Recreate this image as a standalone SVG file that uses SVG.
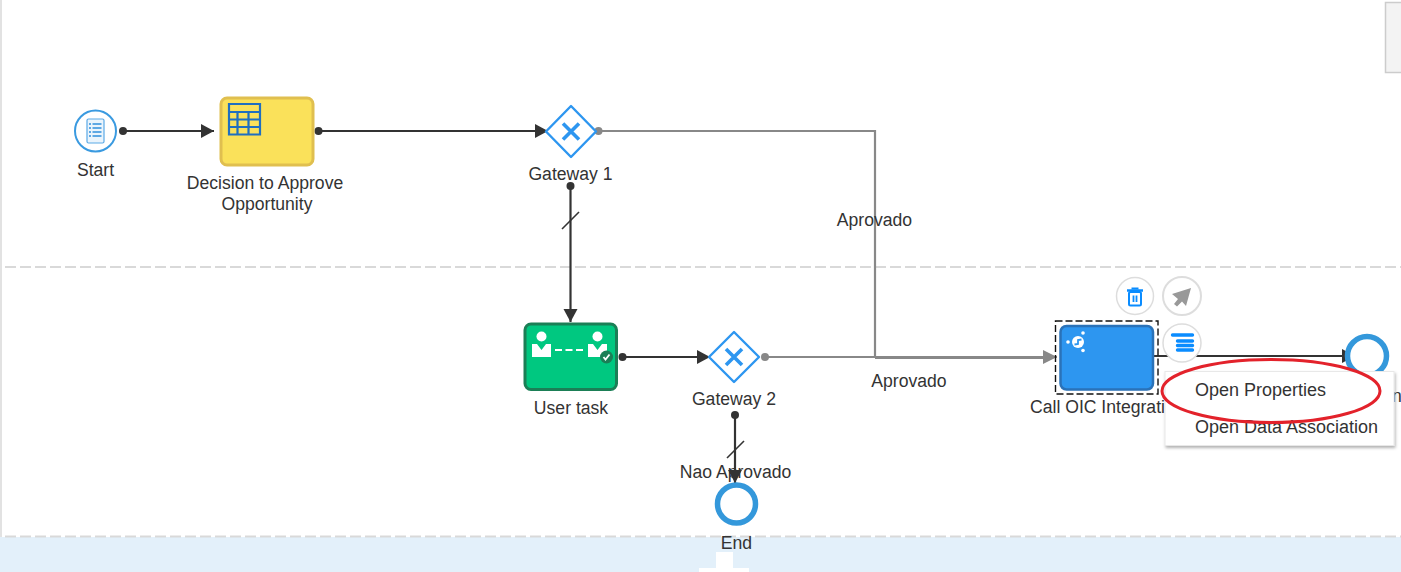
<svg xmlns="http://www.w3.org/2000/svg" width="1401" height="572" viewBox="0 0 1401 572">
<style>
text{font-family:"Liberation Sans",Arial,sans-serif;font-size:17.6px;fill:#333;text-anchor:middle}
.d{stroke:#333;stroke-width:2.2;fill:none}
.g{stroke:#888;stroke-width:2.2;fill:none}
.dot{fill:#333}.gdot{fill:#888}
.lane{stroke:#d9d9d9;stroke-width:2;stroke-dasharray:11 4;fill:none}
.gw{fill:#fff;stroke:#2d96f0;stroke-width:2.4;stroke-linejoin:round}
.x{stroke:#2d96f0;stroke-width:3.6;fill:none}
.end{fill:#fff;stroke:#3498db;stroke-width:5.5}
.act{fill:#fff;stroke:#ddd;stroke-width:1.5}
.m{text-anchor:start;font-size:18px}
.ic{stroke:#0a8cff;fill:none}
</style>
<defs>
<marker id="ad" markerUnits="userSpaceOnUse" markerWidth="14" markerHeight="16" refX="13" refY="8" orient="auto"><path d="M0 1L13 8L0 15Z" fill="#333"/></marker>
<marker id="ag" markerUnits="userSpaceOnUse" markerWidth="15" markerHeight="16" refX="14" refY="8" orient="auto"><path d="M0 1L14 8L0 15Z" fill="#888"/></marker>
<filter id="sh" x="-5%" y="-10%" width="110%" height="125%"><feDropShadow dx="1" dy="2" stdDeviation="1.5" flood-color="#000" flood-opacity=".3"/></filter>
</defs>
<rect width="1401" height="572" fill="#fff"/>
<g id="canvas">
<rect x="0" y="0" width="2" height="537" fill="#e2e2e2"/>
<path class="lane" d="M5 267H1401"/>
<rect x="0" y="537" width="1401" height="35" fill="#e3f0fa"/>
<path class="lane" d="M5 536.500H1401"/>
<path d="M716 572V552H733V568H749V572Z M699 572V568H716V572Z" fill="#fff"/>
<rect x="1385.500" y="2.500" width="20" height="70" fill="#f3f3f3" stroke="#ccc" stroke-width="1.500"/>
</g>
<g id="connectors">
<path class="d" d="M123 131H214" marker-end="url(#ad)"/><circle class="dot" cx="123" cy="131" r="4"/>
<path class="d" d="M318.500 131H548" marker-end="url(#ad)"/><circle class="dot" cx="318.500" cy="131" r="4"/>
<path class="g" d="M598.500 131H875V357"/><circle class="gdot" cx="598.500" cy="131" r="4"/>
<path class="d" d="M570.500 186V322" marker-end="url(#ad)"/><circle class="dot" cx="570.500" cy="186" r="4"/>
<path d="M562 229L579 212" stroke="#333" stroke-width="1.600" fill="none"/>
<path class="d" d="M622.500 357H710" marker-end="url(#ad)"/><circle class="dot" cx="622.500" cy="357" r="4"/>
<path class="g" d="M765 357H1057" marker-end="url(#ag)"/><circle class="gdot" cx="765" cy="357" r="4"/>
<path class="g" d="M875 357.500H1045" style="stroke-width:3"/>
<path class="d" d="M735 415V483" marker-end="url(#ad)"/><circle class="dot" cx="735" cy="415" r="4"/>
<path d="M727 458L744 441" stroke="#333" stroke-width="1.600" fill="none"/>
<path class="d" d="M1154 356H1355" marker-end="url(#ad)"/>
</g>
<g id="start">
<circle cx="95.500" cy="131" r="20.500" fill="#fff" stroke="#3a9ae0" stroke-width="2"/>
<rect x="87" y="119" width="17" height="24" rx="1.500" fill="#eaf4fc" stroke="#5aa9e6" stroke-width="1.200"/>
<path d="M89 124h2M92.500 124h9M89 128h2M92.500 128h9M89 132h2M92.500 132h9M89 136h2M92.500 136h9" stroke="#2f8fdc" stroke-width="1.400"/>
<text x="95.500" y="176">Start</text>
</g>
<g id="decision">
<rect x="221" y="98" width="92" height="67" rx="6" fill="#fae15a" stroke="#e0bf4f" stroke-width="3"/>
<path d="M229 104H260V134.500H229ZM229 112H260M229 119.500H260M229 127H260M237.500 112V134.500M248.500 112V134.500" fill="none" stroke="#1f6fc0" stroke-width="2.200"/>
<text x="265" y="189">Decision to Approve</text>
<text x="267" y="210">Opportunity</text>
</g>
<g id="gateway1">
<path class="gw" d="M571 106L596 131.500L571 157L546 131.500Z"/>
<path class="x" d="M563 123.500L579 139.500M579 123.500L563 139.500"/>
<text x="570.500" y="180">Gateway 1</text>
</g>
<g id="user-task">
<rect x="525" y="324" width="91.500" height="65.500" rx="6" fill="#00c880" stroke="#1b7f56" stroke-width="3"/>
<circle cx="541.500" cy="336.500" r="5" fill="#fff"/>
<path d="M532 344H537L541.500 350L546 344H551V357H532Z" fill="#fff"/>
<circle cx="597.500" cy="336.500" r="5" fill="#fff"/>
<path d="M588 344H593L597.500 350L602 344H607V357H588Z" fill="#fff"/>
<path d="M555 350H584" stroke="#fff" stroke-width="2" stroke-dasharray="7 3.500"/>
<circle cx="606.500" cy="357" r="6.500" fill="#1b7f56"/>
<path d="M603.500 357L605.500 359.500L609.500 354.500" stroke="#fff" stroke-width="1.800" fill="none"/>
<text x="571" y="414">User task</text>
</g>
<g id="gateway2">
<path class="gw" d="M734 332L759 357L734 382L709 357Z"/>
<path class="x" d="M726 349L742 365M742 349L726 365"/>
<text x="734" y="405">Gateway 2</text>
</g>
<g id="call-oic">
<rect x="1060.500" y="326" width="92.500" height="63.500" rx="6" fill="#2d96f0" stroke="#2a72b8" stroke-width="2.500"/>
<rect x="1055.500" y="321" width="102.500" height="73" fill="none" stroke="#111" stroke-width="1.400" stroke-dasharray="7 3"/>
<circle cx="1078" cy="342" r="6" fill="#fff"/>
<path d="M1074.500 344.500L1078 344L1078 340L1081.500 339.500" stroke="#2d96f0" stroke-width="1.800" fill="none"/>
<circle cx="1068" cy="342" r="1.800" fill="#fff"/><circle cx="1083" cy="333" r="1.800" fill="#fff"/><circle cx="1083" cy="350.500" r="1.800" fill="#fff"/>
<text x="1030" y="413" style="text-anchor:start">Call OIC Integrati</text>
</g>
<g id="end-right">
<circle class="end" cx="1367" cy="356" r="19.500"/>
<text x="1392" y="402" style="text-anchor:start">n</text>
</g>
<g id="end">
<circle class="end" cx="736.500" cy="504" r="19"/>
<text x="736.500" y="549">End</text>
</g>
<g id="labels">
<text x="874.500" y="226">Aprovado</text>
<text x="909" y="387">Aprovado</text>
<text x="735.500" y="478">Nao Aprovado</text>
</g>
<g id="actions">
<circle class="act" cx="1135" cy="296" r="18.500"/>
<path class="ic" d="M1127 290.500H1143" stroke-width="2.500"/>
<path class="ic" d="M1131.500 288.500H1138.500" stroke-width="2"/>
<rect class="ic" x="1129" y="292" width="12" height="13.500" rx="1.500" stroke-width="2"/>
<path class="ic" d="M1133.500 295.500V302M1136.500 295.500V302" stroke-width="1.800"/>
<circle class="act" cx="1182" cy="296" r="19" style="stroke-width:2"/>
<path d="M1191 288L1172 294L1178 299L1174 304L1177 306.500L1182 301.500L1186 306Z" fill="#999"/>
<circle class="act" cx="1182" cy="343" r="19"/>
<path class="ic" d="M1172.500 335H1192.500M1177.500 341H1192.500M1177.500 345.500H1192.500M1177.500 350H1192.500" stroke-width="3.400" stroke-linecap="round"/>
</g>
<g id="menu">
<rect x="1165" y="371.500" width="229" height="74" fill="#fff" stroke="#e8e8e8" filter="url(#sh)"/>
<text class="m" x="1195" y="396">Open Properties</text>
<text class="m" x="1195" y="433">Open Data Association</text>
</g>
<ellipse id="highlight" cx="1271" cy="391" rx="109" ry="31.500" fill="none" stroke="#e3222b" stroke-width="3"/>
</svg>
